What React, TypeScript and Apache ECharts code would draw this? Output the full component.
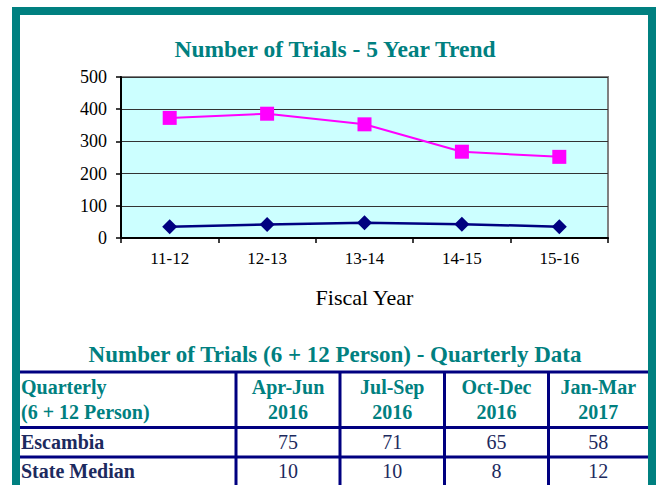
import React, { useEffect, useRef } from "react";
import * as echarts from "echarts";

const fiscalYears = ["11-12", "12-13", "13-14", "14-15", "15-16"];
const escambiaTrend = [373, 386, 353, 268, 252];
const stateMedianTrend = [35, 42, 47, 43, 35];

const quarterHeaders = [
  ["Apr-Jun", "2016"],
  ["Jul-Sep", "2016"],
  ["Oct-Dec", "2016"],
  ["Jan-Mar", "2017"],
];
const rowLabels = ["Escambia", "State Median"];
const escambiaQuarterly = [75, 71, 65, 58];
const stateMedianQuarterly = [10, 10, 8, 12];

const SERIF = "Liberation Serif";
const TEAL = "#008080";
const NAVY = "#000080";
const TXT = "#1c2a5e";

export default function App() {
  const ref = useRef<HTMLDivElement>(null);

  useEffect(() => {
    if (!ref.current) return;
    const chart = echarts.init(ref.current, null, { renderer: "svg" });

    const tLeft = 20;
    const tRight = 648;
    const hLines = [372, 427.5, 457];
    const vLines = [236, 340, 444.5, 548.5];
    const colEdges = [...vLines, tRight];
    const colCenters = vLines.map((v, i) => (v + colEdges[i + 1]) / 2);
    const rowY = [441.5, 471];
    const rowValues = [escambiaQuarterly, stateMedianQuarterly];

    const txt = (x: number, y: number, text: string, opts: any) => ({
      type: "text",
      x,
      y,
      style: {
        text,
        fontFamily: SERIF,
        fontSize: opts.size,
        fontWeight: opts.bold ? "bold" : "normal",
        fill: opts.color,
        align: opts.align || "center",
        verticalAlign: "middle",
      },
    });

    const graphics: any[] = [];
    graphics.push({
      type: "rect",
      shape: { x: 16, y: 11, width: 636, height: 520 },
      style: { fill: "none", stroke: TEAL, lineWidth: 8 },
      z: 10,
    });
    graphics.push(
      txt(335, 354, "Number of Trials (6 + 12 Person) - Quarterly Data", {
        size: 23,
        bold: true,
        color: TEAL,
      })
    );
    hLines.forEach((y) =>
      graphics.push({
        type: "line",
        shape: { x1: tLeft, y1: y, x2: tRight, y2: y },
        style: { stroke: NAVY, lineWidth: 3 },
      })
    );
    vLines.forEach((x) =>
      graphics.push({
        type: "line",
        shape: { x1: x, y1: hLines[0], x2: x, y2: 490 },
        style: { stroke: NAVY, lineWidth: 3 },
      })
    );
    graphics.push(txt(21, 386.5, "Quarterly", { size: 20, bold: true, color: TEAL, align: "left" }));
    graphics.push(txt(21, 412, "(6 + 12 Person)", { size: 20, bold: true, color: TEAL, align: "left" }));
    quarterHeaders.forEach((lines, i) => {
      lines.forEach((t, j) =>
        graphics.push(txt(colCenters[i], j === 0 ? 386.5 : 412, t, { size: 20, bold: true, color: TEAL }))
      );
    });
    rowLabels.forEach((label, r) => {
      graphics.push(txt(21, rowY[r], label, { size: 20, bold: true, color: TXT, align: "left" }));
      rowValues[r].forEach((v, i) =>
        graphics.push(txt(colCenters[i], rowY[r], String(v), { size: 20, bold: false, color: TXT }))
      );
    });

    chart.setOption({
      animation: false,
      backgroundColor: "#ffffff",
      title: {
        text: "Number of Trials - 5 Year Trend",
        left: 330,
        textAlign: "center",
        top: 32,
        textStyle: {
          fontFamily: SERIF,
          fontWeight: "bold",
          fontSize: 23.5,
          color: TEAL,
        },
      },
      grid: {
        left: 121,
        right: 50,
        top: 77,
        bottom: 247,
        show: true,
        backgroundColor: "#ccffff",
        borderColor: "#808080",
        borderWidth: 2,
      },
      xAxis: {
        type: "category",
        data: fiscalYears,
        boundaryGap: true,
        name: "Fiscal Year",
        nameLocation: "middle",
        nameGap: 48,
        nameTextStyle: { fontFamily: SERIF, fontSize: 22, color: "#000" },
        axisLine: { lineStyle: { color: "#000", width: 2 } },
        axisTick: { show: true, length: 5, lineStyle: { color: "#000", width: 1.5 } },
        axisLabel: { fontFamily: SERIF, fontSize: 17, color: "#000", margin: 12 },
        splitLine: { show: false },
      },
      yAxis: {
        type: "value",
        min: 0,
        max: 500,
        interval: 100,
        axisLine: { show: true, lineStyle: { color: "#000", width: 2 } },
        axisTick: { show: true, length: 5, lineStyle: { color: "#000", width: 1.5 } },
        axisLabel: { fontFamily: SERIF, fontSize: 18, color: "#000", margin: 14 },
        splitLine: { show: true, lineStyle: { color: "#333", width: 1.2 } },
      },
      series: [
        {
          name: "Escambia",
          type: "line",
          data: escambiaTrend,
          symbol: "rect",
          symbolSize: 14,
          lineStyle: { color: "#ff00ff", width: 2 },
          itemStyle: { color: "#ff00ff" },
        },
        {
          name: "State Median",
          type: "line",
          data: stateMedianTrend,
          symbol: "diamond",
          symbolSize: 15,
          lineStyle: { color: NAVY, width: 2.5 },
          itemStyle: { color: NAVY },
        },
      ],
      graphic: graphics,
    });

    return () => chart.dispose();
  }, []);

  return (
    <div
      ref={ref}
      style={{ position: "fixed", left: 0, top: 0, width: 658, height: 485 }}
    />
  );
}
